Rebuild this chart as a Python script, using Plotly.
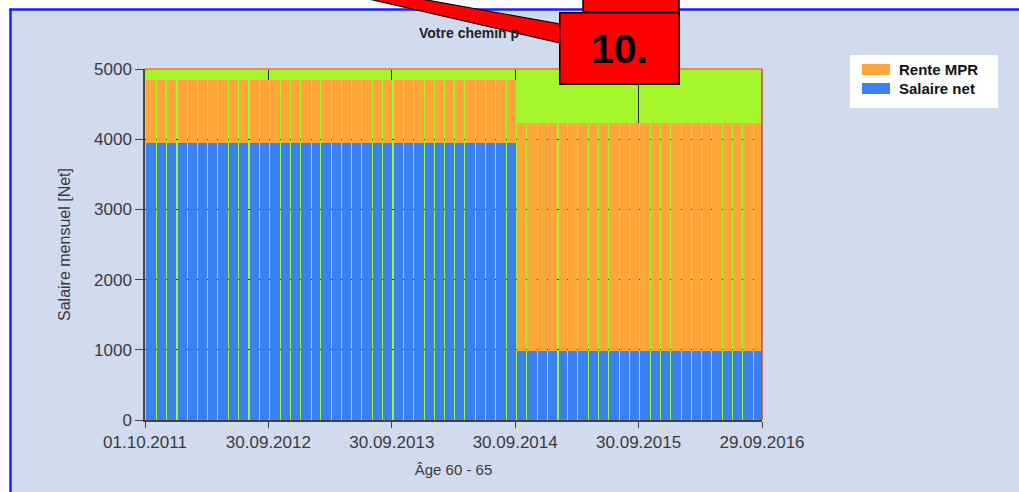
import plotly.graph_objects as go
import pandas as pd

# ---------------- data ----------------
months = pd.date_range("2011-10-01", "2016-09-01", freq="MS")

salaire_net = [
    3950, 3950, 3950, 3950, 3950, 3950, 3950, 3950, 3950, 3950, 3950, 3950,
    3950, 3950, 3950, 3950, 3950, 3950, 3950, 3950, 3950, 3950, 3950, 3950,
    3950, 3950, 3950, 3950, 3950, 3950, 3950, 3950, 3950, 3950, 3950, 3950,
    990, 990, 990, 990, 990, 990, 990, 990, 990, 990, 990, 990,
    990, 990, 990, 990, 990, 990, 990, 990, 990, 990, 990, 990,
]
rente_mpr = [
    900, 900, 900, 900, 900, 900, 900, 900, 900, 900, 900, 900,
    900, 900, 900, 900, 900, 900, 900, 900, 900, 900, 900, 900,
    900, 900, 900, 900, 900, 900, 900, 900, 900, 900, 900, 900,
    3240, 3240, 3240, 3240, 3240, 3240, 3240, 3240, 3240, 3240, 3240, 3240,
    3240, 3240, 3240, 3240, 3240, 3240, 3240, 3240, 3240, 3240, 3240, 3240,
]

x_tickvals = ["2011-10-01", "2012-09-30", "2013-09-30", "2014-09-30", "2015-09-30", "2016-09-29"]
x_ticktext = ["01.10.2011", "30.09.2012", "30.09.2013", "30.09.2014", "30.09.2015", "29.09.2016"]
y_tickvals = [0, 1000, 2000, 3000, 4000, 5000]

series_names = ["Salaire net", "Rente MPR"]
title_text = "Votre chemin p"
x_title = "Âge 60 - 65"
y_title = "Salaire mensuel [Net]"
callout_text = "10."

# ---------------- style ----------------
BLUE = "#3A80EE"
ORANGE = "#FFA53A"
GREEN = "#A4F52A"
BG = "#D0DCEE"
FONT = "Liberation Sans"
TXT = "#3a3a3a"

W, H = 1019, 492
L, R, T, B = 145, 762, 69, 420  # plot area in pixels


def px(x):
    return (x - L) / (R - L)


def py(y):
    return (B - y) / (B - T)


DAY = 86400000
gap_days = 3.2
widths = [(d - gap_days) * DAY for d in months.days_in_month]
offset = (gap_days + 1) * DAY

fig = go.Figure()
fig.add_trace(go.Bar(x=months, y=salaire_net, name=series_names[0], marker_color=BLUE,
                     marker_line_width=0, width=widths, offset=offset))
fig.add_trace(go.Bar(x=months, y=rente_mpr, name=series_names[1], marker_color=ORANGE,
                     marker_line_width=0, width=widths, offset=offset))

shapes = [
    # white surroundings outside the chart border
    dict(type="rect", xref="paper", yref="paper", x0=px(-20), x1=px(10), y0=py(600), y1=py(-20),
         fillcolor="white", line=dict(width=0), layer="below"),
    dict(type="rect", xref="paper", yref="paper", x0=px(-20), x1=px(1100), y0=py(9), y1=py(-20),
         fillcolor="white", line=dict(width=0), layer="below"),
    # blue chart border
    dict(type="line", xref="paper", yref="paper", x0=px(9.5), x1=px(1100), y0=py(9.5), y1=py(9.5),
         line=dict(color="#1E1EFF", width=2.5)),
    dict(type="line", xref="paper", yref="paper", x0=px(10.5), x1=px(10.5), y0=py(8.5), y1=py(600),
         line=dict(color="#1E1EFF", width=2.5)),
    # plot area top and right borders
    dict(type="line", xref="paper", yref="paper", x0=0, x1=1, y0=1, y1=1,
         line=dict(color="#E8866A", width=2)),
    dict(type="line", xref="paper", yref="paper", x0=1, x1=1, y0=0, y1=1,
         line=dict(color="#C8502E", width=1.5)),
    # legend box
    dict(type="rect", xref="paper", yref="paper", x0=px(850), x1=px(998), y0=py(55), y1=py(108),
         fillcolor="white", line=dict(width=0)),
    dict(type="rect", xref="paper", yref="paper", x0=px(862), x1=px(890), y0=py(64), y1=py(75),
         fillcolor=ORANGE, line=dict(width=0)),
    dict(type="rect", xref="paper", yref="paper", x0=px(862), x1=px(890), y0=py(83), y1=py(94),
         fillcolor=BLUE, line=dict(width=0)),
    # callout wedge
    dict(type="path", xref="paper", yref="paper",
         path=f"M {px(360)} {py(-3)} L {px(410)} {py(-3)} L {px(560)} {py(24)} L {px(560)} {py(43)} Z",
         fillcolor="#FF0000", line=dict(color="black", width=1.2)),
    # upper callout box
    dict(type="rect", xref="paper", yref="paper", x0=px(583), x1=px(679), y0=py(-5), y1=py(12),
         fillcolor="#FF0000", line=dict(color="black", width=1.5)),
]

annotations = [
    dict(text=f"<b>{title_text}</b>", xref="paper", yref="paper", x=px(417), y=py(33),
         xanchor="left", yanchor="middle", showarrow=False,
         font=dict(family=FONT, size=14, color="#222")),
    dict(text=f"<b>{callout_text}</b>", xref="paper", yref="paper", x=px(619), y=py(48),
         xanchor="center", yanchor="middle", showarrow=False, width=118, height=70,
         bgcolor="#FF0000", bordercolor="black", borderwidth=1.5, borderpad=0,
         font=dict(family=FONT, size=41, color="black")),
    dict(text=f"<b>{series_names[1]}</b>", xref="paper", yref="paper", x=px(897), y=py(70),
         xanchor="left", yanchor="middle", showarrow=False,
         font=dict(family=FONT, size=15, color="#111")),
    dict(text=f"<b>{series_names[0]}</b>", xref="paper", yref="paper", x=px(897), y=py(89),
         xanchor="left", yanchor="middle", showarrow=False,
         font=dict(family=FONT, size=15, color="#111")),
]

fig.update_layout(
    width=W, height=H,
    margin=dict(l=L, r=W - R, t=T, b=H - B, autoexpand=False),
    paper_bgcolor=BG, plot_bgcolor=GREEN,
    barmode="stack", showlegend=False,
    font=dict(family=FONT, color=TXT),
    shapes=shapes, annotations=annotations,
    xaxis=dict(type="date", range=[x_tickvals[0], x_tickvals[-1]],
               tickmode="array", tickvals=x_tickvals, ticktext=x_ticktext,
               ticks="outside", ticklen=6, tickcolor="#444", tickwidth=1.2,
               showline=True, linecolor="#444", linewidth=1.5,
               showgrid=True, gridcolor="#2b2b2b", gridwidth=1, zeroline=False,
               tickfont=dict(family=FONT, size=17, color=TXT),
               title=dict(text=x_title, font=dict(family=FONT, size=15, color=TXT), standoff=13)),
    yaxis=dict(range=[0, 5000], tickmode="array", tickvals=y_tickvals,
               ticks="outside", ticklen=8, tickcolor="#444", tickwidth=1.2,
               showline=True, linecolor="#444", linewidth=1.5,
               showgrid=True, gridcolor="#2b2b2b", gridwidth=1, zeroline=False,
               tickfont=dict(family=FONT, size=17, color=TXT),
               title=dict(text=y_title, font=dict(family=FONT, size=16, color=TXT), standoff=19)),
)

fig.write_html("out.html", config={"displayModeBar": False},
               post_script="document.body.style.margin='0';")
